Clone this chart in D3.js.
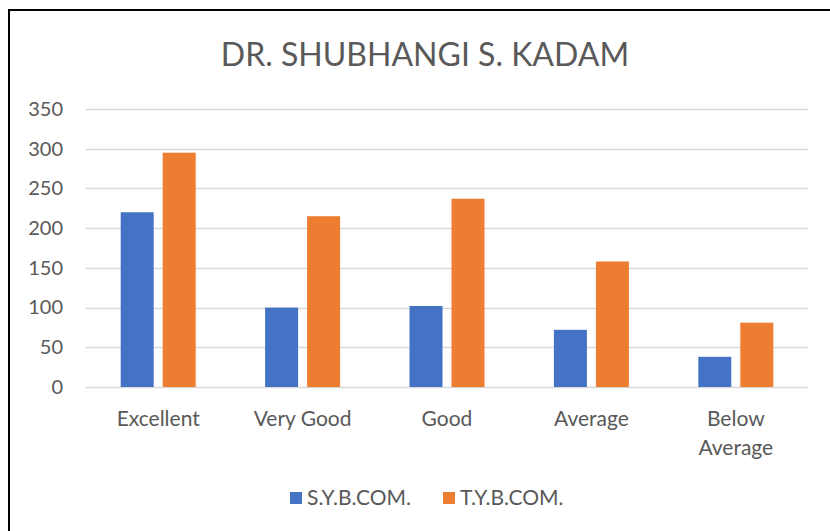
<!DOCTYPE html>
<html>
<head>
<meta charset="utf-8">
<script src="https://cdn.jsdelivr.net/npm/d3@7"></script>
<style>
  body { margin: 0; background: #fff; }
  text { font-family: Lato, "Open Sans", sans-serif; fill: #595959; }
</style>
</head>
<body>
<div id="chart"></div>
<script>
// data
const categories = ["Excellent", "Very Good", "Good", "Average", "Below Average"];
const syValues = [220, 100, 102, 72, 38];
const tyValues = [295, 215, 237, 158, 81];
const seriesNames = ["S.Y.B.COM.", "T.Y.B.COM."];
const yTicks = [0, 50, 100, 150, 200, 250, 300, 350];

const W = 830, H = 531;
const colors = ["#4472C4", "#ED7D31"];

const svg = d3.select("#chart").append("svg")
  .attr("width", W).attr("height", H);

// outer frame
svg.append("rect")
  .attr("x", 9).attr("y", 10).attr("width", 840).attr("height", 540)
  .attr("fill", "#fff").attr("stroke", "#000").attr("stroke-width", 2);

svg.append("text")
  .attr("x", 425).attr("y", 66)
  .attr("text-anchor", "middle")
  .style("font-size", "32px")
  .text("DR. SHUBHANGI S. KADAM");

const plot = {left: 86, right: 808, top: 109, bottom: 387};

const x = d3.scaleBand().domain(categories).range([plot.left, plot.right]);
const y = d3.scaleLinear().domain([0, 350]).range([plot.bottom, plot.top]);

// gridlines
svg.append("g").selectAll("line")
  .data(yTicks)
  .join("line")
  .attr("x1", plot.left).attr("x2", plot.right)
  .attr("y1", d => Math.round(y(d)) + 0.5).attr("y2", d => Math.round(y(d)) + 0.5)
  .attr("stroke", "#d9d9d9").attr("stroke-width", 1.5);

// y axis labels
const yAxis = svg.append("g")
  .attr("transform", `translate(${plot.left}, 0)`)
  .call(d3.axisLeft(y).tickValues(yTicks).tickSize(0).tickPadding(23));
yAxis.select(".domain").remove();
yAxis.selectAll("text")
  .style("font-size", "20px").attr("fill", "#595959")
  .style("font-family", "Lato, sans-serif");

// bars
const barW = 33, gap = 9;
const groups = svg.append("g").selectAll("g")
  .data(categories)
  .join("g")
  .attr("transform", d => `translate(${x(d) + x.bandwidth() / 2}, 0)`);

[syValues, tyValues].forEach((vals, si) => {
  groups.append("rect")
    .attr("x", si === 0 ? -(barW + gap / 2) : gap / 2)
    .attr("width", barW)
    .attr("y", (d, i) => y(vals[i]))
    .attr("height", (d, i) => y(0) - y(vals[i]))
    .attr("fill", colors[si]);
});

// category labels (wrap "Below Average")
svg.append("g").selectAll("text")
  .data(categories)
  .join("text")
  .attr("x", d => x(d) + x.bandwidth() / 2)
  .attr("y", 426)
  .attr("text-anchor", "middle")
  .style("font-size", "21px")
  .each(function(d) {
    const words = d === "Below Average" ? ["Below", "Average"] : [d];
    words.forEach((w, k) => {
      d3.select(this).append("tspan")
        .attr("x", x(d) + x.bandwidth() / 2)
        .attr("dy", k === 0 ? 0 : 29)
        .text(w);
    });
  });

// legend
const legendX = [290, 443];
const legend = svg.append("g").selectAll("g")
  .data(seriesNames)
  .join("g")
  .attr("transform", (d, i) => `translate(${legendX[i]}, 492)`);
legend.append("rect")
  .attr("width", 12).attr("height", 12)
  .attr("fill", (d, i) => colors[i]);
legend.append("text")
  .attr("x", 17).attr("y", 13)
  .style("font-size", "21px")
  .text(d => d);
</script>
</body>
</html>
